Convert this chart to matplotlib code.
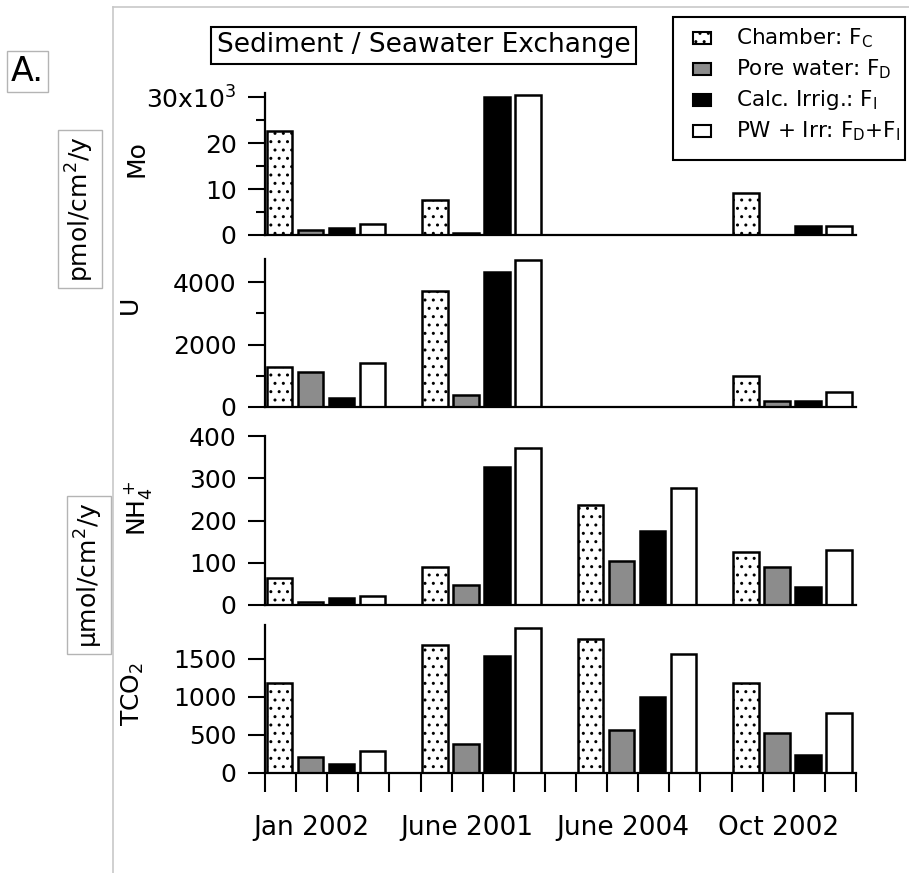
import numpy as np
import matplotlib
matplotlib.use("Agg")
import matplotlib.pyplot as plt
from matplotlib.patches import Rectangle
from matplotlib.lines import Line2D
from matplotlib.ticker import FixedLocator, FuncFormatter

plt.rcParams['font.family'] = 'DejaVu Sans'
plt.rcParams['mathtext.default'] = 'regular'
plt.rcParams['hatch.linewidth'] = 1.0

nan = np.nan

categories = ['Jan 2002', 'June 2001', 'June 2004', 'Oct 2002']
series = ['Chamber: F$_C$', 'Pore water: F$_D$', 'Calc. Irrig.: F$_I$', 'PW + Irr: F$_D$+F$_I$']

# fluxes, pmol/cm2/y
mo_chamber = [22700, 7700, nan, 9200]
mo_pore = [1000, 500, nan, nan]
mo_irrig = [1450, 30000, nan, 1950]
mo_pw_irr = [2400, 30400, nan, 1850]

u_chamber = [1270, 3720, nan, 980]
u_pore = [1120, 400, nan, 190]
u_irrig = [280, 4310, nan, 190]
u_pw_irr = [1410, 4720, nan, 470]

# fluxes, umol/cm2/y
nh4_chamber = [63, 90, 236, 125]
nh4_pore = [6, 47, 104, 90]
nh4_irrig = [16, 326, 174, 42]
nh4_pw_irr = [21, 372, 278, 130]

tco2_chamber = [1183, 1681, 1765, 1183]
tco2_pore = [212, 380, 560, 530]
tco2_irrig = [124, 1536, 1006, 243]
tco2_pw_irr = [291, 1910, 1566, 785]

W, H = 909, 873
fig = plt.figure(figsize=(W / 100, H / 100), dpi=100)


def fx(x):
    return x / W


def fy(y):
    return 1 - y / H


styles = [dict(facecolor='white', hatch='..'),
          dict(facecolor='#8c8c8c'),
          dict(facecolor='black'),
          dict(facecolor='white')]

left, right = 265, 856
panels = [
    # name, (top px, bottom px), ymax, major, minor, data
    ('Mo', (93, 235), 30870, [0, 10000, 20000, 30000], [5000, 15000, 25000],
     [mo_chamber, mo_pore, mo_irrig, mo_pw_irr]),
    ('U', (259, 407), 4736, [0, 2000, 4000], [1000, 3000],
     [u_chamber, u_pore, u_irrig, u_pw_irr]),
    ('NH$_4^+$', (436, 605), 400, [0, 100, 200, 300, 400], [],
     [nh4_chamber, nh4_pore, nh4_irrig, nh4_pw_irr]),
    ('TCO$_2$', (625, 773), 1947, [0, 500, 1000, 1500], [],
     [tco2_chamber, tco2_pore, tco2_irrig, tco2_pw_irr]),
]
label_pos = [(136, 159), (130, 305), (138, 508), (133, 694)]

n_groups = len(categories)
slots = 5 * n_groups - 1

for i, (name, (top, bot), ymax, major, minor, data) in enumerate(panels):
    ax = fig.add_axes([fx(left), fy(bot), fx(right) - fx(left), (bot - top) / H])
    for s, vals in enumerate(data):
        xs = 5 * np.arange(n_groups) + s + 0.05
        ax.bar(xs, vals, width=0.82, align='edge', edgecolor='black',
               linewidth=1.8, **styles[s])
    ax.set_xlim(0, slots)
    ax.set_ylim(0, ymax)
    ax.spines['top'].set_visible(False)
    ax.spines['right'].set_visible(False)
    ax.spines['left'].set_linewidth(1.6)
    ax.spines['bottom'].set_linewidth(1.6)
    ax.yaxis.set_major_locator(FixedLocator(major))
    ax.yaxis.set_minor_locator(FixedLocator(minor))
    ax.tick_params(axis='y', which='major', length=12.5, width=1.5,
                   labelsize=18, pad=8)
    ax.tick_params(axis='y', which='minor', length=6.5, width=1.5)
    if i == 0:
        ax.yaxis.set_major_formatter(FuncFormatter(
            lambda v, p: '30x10$^3$' if v >= 30000 else '%d' % (v / 1000)))
    if i < len(panels) - 1:
        ax.set_xticks([])
    else:
        ax.set_xticks(np.arange(slots + 1))
        ax.set_xticklabels([])
        ax.set_xticks(5 * np.arange(n_groups) + 1.5, minor=True)
        ax.set_xticklabels(categories, minor=True, fontsize=19)
        ax.tick_params(axis='x', which='major', length=14, width=1.5,
                       direction='out')
        ax.tick_params(axis='x', which='minor', length=0, pad=30)
    fig.text(fx(label_pos[i][0]), fy(label_pos[i][1]), name, rotation=90,
             ha='center', va='center', fontsize=18)

# window frame lines
gray = '#c8c8c8'
fig.add_artist(Line2D([fx(113), fx(113)], [fy(7), 0], color=gray, lw=1.2))
fig.add_artist(Line2D([fx(113), 1], [fy(7), fy(7)], color=gray, lw=1.2))

fig.text(fx(27.5), fy(71.5), 'A.', ha='center', va='center', fontsize=24,
         bbox=dict(boxstyle='square,pad=0.12', facecolor='white',
                   edgecolor='#b4b4b4', linewidth=1))

unit_box = dict(boxstyle='square,pad=0.25', facecolor='white',
                edgecolor='#b4b4b4', linewidth=1)
fig.text(fx(80), fy(209), 'pmol/cm$^2$/y', rotation=90, ha='center',
         va='center', fontsize=18, bbox=unit_box)
fig.text(fx(89), fy(575), '\u00b5mol/cm$^2$/y', rotation=90, ha='center',
         va='center', fontsize=18, bbox=unit_box)

fig.text(fx(423.5), fy(45.5), 'Sediment / Seawater Exchange', ha='center',
         va='center', fontsize=19,
         bbox=dict(boxstyle='square,pad=0.2', facecolor='white',
                   edgecolor='black', linewidth=1.5))

# legend box with one swatch per series
fig.add_artist(Rectangle((fx(673), fy(160)), fx(905) - fx(673), (160 - 17) / H,
                         transform=fig.transFigure, facecolor='white',
                         edgecolor='black', linewidth=1.5))
for s, label in enumerate(series):
    yc = 38 + 31 * s
    fig.add_artist(Rectangle((fx(693), fy(yc + 6)), fx(711) - fx(693), 12 / H,
                             transform=fig.transFigure, edgecolor='black',
                             linewidth=1.5, **styles[s]))
    fig.text(fx(736), fy(yc), label, ha='left', va='center', fontsize=15.5)

fig.savefig('out.png', dpi=100)
